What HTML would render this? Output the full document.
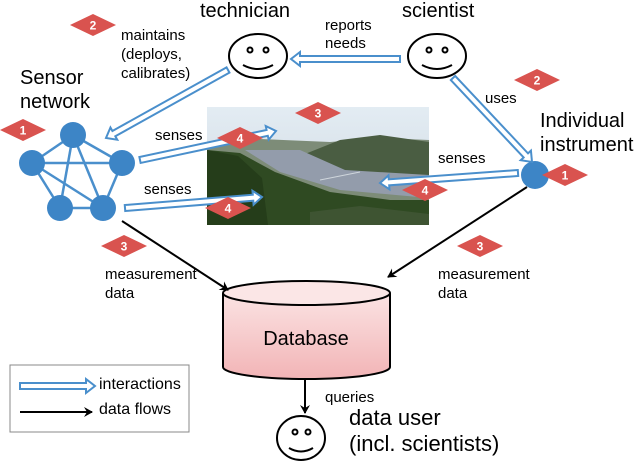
<!DOCTYPE html>
<html><head><meta charset="utf-8"><style>
html,body{margin:0;padding:0;background:#fff;}
svg{display:block;font-family:"Liberation Sans",Arial,sans-serif;}
</style></head><body>
<svg id="s" width="640" height="461" viewBox="0 0 640 461" xmlns="http://www.w3.org/2000/svg">
<defs>
<linearGradient id="sky" x1="0" y1="0" x2="0" y2="1"><stop offset="0" stop-color="#e3ecf3"/><stop offset="1" stop-color="#cdd8e0"/></linearGradient>
<linearGradient id="db" x1="0" y1="0" x2="0" y2="1"><stop offset="0" stop-color="#fbe3e3"/><stop offset="1" stop-color="#f2b4b6"/></linearGradient>
<marker id="ah" markerWidth="10" markerHeight="10" refX="8" refY="5" orient="auto" markerUnits="userSpaceOnUse"><path d="M0,0 L9,5 L0,10 L3,5 Z" fill="#000"/></marker>
</defs>
<!-- photo -->
<g>
<rect x="207" y="107" width="222" height="118" fill="url(#sky)"/>
<path d="M207,143 L260,139 L330,142 L380,138 L429,140 L429,225 L207,225Z" fill="#7d8c78"/>
<path d="M290,160 L340,140 L380,135 L429,142 L429,185 L330,178Z" fill="#4a5d42"/>
<path d="M245,150 L300,150 L345,170 L429,175 L429,198 L340,190 L280,172Z" fill="#939cab"/>
<path d="M207,150 L240,153 L275,172 L330,192 L390,200 L429,200 L429,225 L207,225Z" fill="#2f4a22"/>
<path d="M207,150 L238,156 L262,178 L268,225 L207,225Z" fill="#253d1a"/>
<path d="M310,212 L360,206 L429,214 L429,225 L310,225Z" fill="#3e5432"/>
<line x1="320" y1="180" x2="360" y2="172" stroke="#cfd6dc" stroke-width="1"/>
</g>
<!-- sensor network edges -->
<g stroke="#4a8fcc" stroke-width="2.5">
<line x1="73" y1="135" x2="32" y2="163"/><line x1="73" y1="135" x2="122" y2="163"/>
<line x1="73" y1="135" x2="60" y2="208"/><line x1="73" y1="135" x2="103" y2="208"/>
<line x1="32" y1="163" x2="122" y2="163"/><line x1="32" y1="163" x2="60" y2="208"/>
<line x1="32" y1="163" x2="103" y2="208"/><line x1="122" y1="163" x2="103" y2="208"/>
<line x1="60" y1="208" x2="103" y2="208"/>
</g>
<g fill="#3d85c6">
<circle cx="73" cy="135" r="13"/><circle cx="32" cy="163" r="13"/><circle cx="122" cy="163" r="13"/>
<circle cx="60" cy="208" r="13"/><circle cx="103" cy="208" r="13"/>
<circle cx="535" cy="175" r="14"/>
</g>
<!-- legend box -->
<rect x="10" y="365" width="179" height="67" fill="#fff" stroke="#888" stroke-width="1"/>
<!-- database -->
<path d="M223,293 L223,367 A83.5,12 0 0 0 390,367 L390,293" fill="url(#db)" stroke="#000" stroke-width="2"/>
<ellipse cx="306.5" cy="293" rx="83.5" ry="12" fill="#fbe6e6" stroke="#000" stroke-width="2"/>
<text x="306" y="345" font-size="20" text-anchor="middle">Database</text>
<!-- black arrows -->
<g stroke="#000" stroke-width="2" fill="none" marker-end="url(#ah)">
<line x1="122" y1="221" x2="228" y2="290"/>
<line x1="527" y1="187" x2="388" y2="277"/>
<line x1="305" y1="380" x2="305" y2="413"/>
<line x1="20" y1="412" x2="92" y2="412"/>
</g>
<g id="dbl"></g>
<!-- faces -->
<g stroke="#000" stroke-width="2" fill="#fff">
<ellipse cx="258" cy="56" rx="29" ry="22"/><ellipse cx="437" cy="56" rx="29" ry="22"/><ellipse cx="301" cy="438" rx="24" ry="22"/>
</g>
<g stroke="#000" stroke-width="2" fill="none">
<circle cx="250" cy="50" r="2.5"/><circle cx="266" cy="50" r="2.5"/><path d="M243,65 Q258,73 273,65"/>
<circle cx="429" cy="50" r="2.5"/><circle cx="445" cy="50" r="2.5"/><path d="M422,65 Q437,73 452,65"/>
<circle cx="295" cy="432" r="2.5"/><circle cx="308" cy="432" r="2.5"/><path d="M289,448 Q301,455 313,448"/>
</g>
<g id="dbl2"></g>
<g font-size="15" fill="#000">
<text x="99" y="389" font-size="16">interactions</text>
<text x="99" y="414" font-size="16">data flows</text>
<text x="121" y="40">maintains</text><text x="121" y="59">(deploys,</text><text x="121" y="78">calibrates)</text>
<text x="325" y="30">reports</text><text x="325" y="48">needs</text>
<text x="485" y="103">uses</text>
<text x="155" y="140">senses</text><text x="144" y="194">senses</text><text x="438" y="163">senses</text>
<text x="105" y="279">measurement</text><text x="105" y="298">data</text>
<text x="438" y="279">measurement</text><text x="438" y="298">data</text>
<text x="325" y="402">queries</text>
</g>
<g font-size="20" fill="#000">
<text x="200" y="17">technician</text><text x="402" y="17">scientist</text>
<text x="20" y="84">Sensor</text><text x="20" y="108">network</text>
<text x="540" y="127">Individual</text><text x="540" y="151">instrument</text>
<text x="349" y="425" font-size="22">data user</text><text x="349" y="451" font-size="22">(incl. scientists)</text>
</g>
<g id="dia"></g>
</svg>
<script>
var NS="http://www.w3.org/2000/svg";
function el(p,t,a){var e=document.createElementNS(NS,t);for(var k in a)e.setAttribute(k,a[k]);p.appendChild(e);return e;}
function dbl(g,x1,y1,x2,y2){
 var dx=x2-x1,dy=y2-y1,L=Math.hypot(dx,dy),ux=dx/L,uy=dy/L,nx=-uy,ny=ux;
 var h=9,w=3,hw=7;var bx=x2-ux*h,by=y2-uy*h;
 var pts=[[x1+nx*w,y1+ny*w],[bx+nx*w,by+ny*w],[bx+nx*hw,by+ny*hw],[x2,y2],[bx-nx*hw,by-ny*hw],[bx-nx*w,by-ny*w],[x1-nx*w,y1-ny*w]];
 el(g,"polygon",{points:pts.map(function(p){return p.join(",")}).join(" "),fill:"#fff",stroke:"#4a8fcc","stroke-width":"2","stroke-linejoin":"miter"});
}
var g=document.getElementById("dbl");
dbl(g,228,70,106,138);
dbl(g,400,59,291,59);
dbl(g,453,78,532,162);
dbl(g,140,160,276,131);
dbl(g,125,208,262,197);
dbl(g,518,173,380,183);
dbl(document.getElementById("dbl2"),20,386,95,386);
function dia(x,y,n){var d=document.getElementById("dia");
 el(d,"polygon",{points:(x-23)+","+y+" "+x+","+(y-11)+" "+(x+23)+","+y+" "+x+","+(y+11),fill:"#d9534f"});
 var t=el(d,"text",{x:x,y:y+4.5,"font-size":"12","font-weight":"bold",fill:"#fff","text-anchor":"middle"});t.textContent=n;}
dia(93,25,"2");dia(23,130,"1");dia(240,138,"4");dia(228,208,"4");dia(318,113,"3");
dia(537,80,"2");dia(565,175,"1");dia(425,190,"4");dia(124,246,"3");dia(480,246,"3");
</script>
</body></html>
